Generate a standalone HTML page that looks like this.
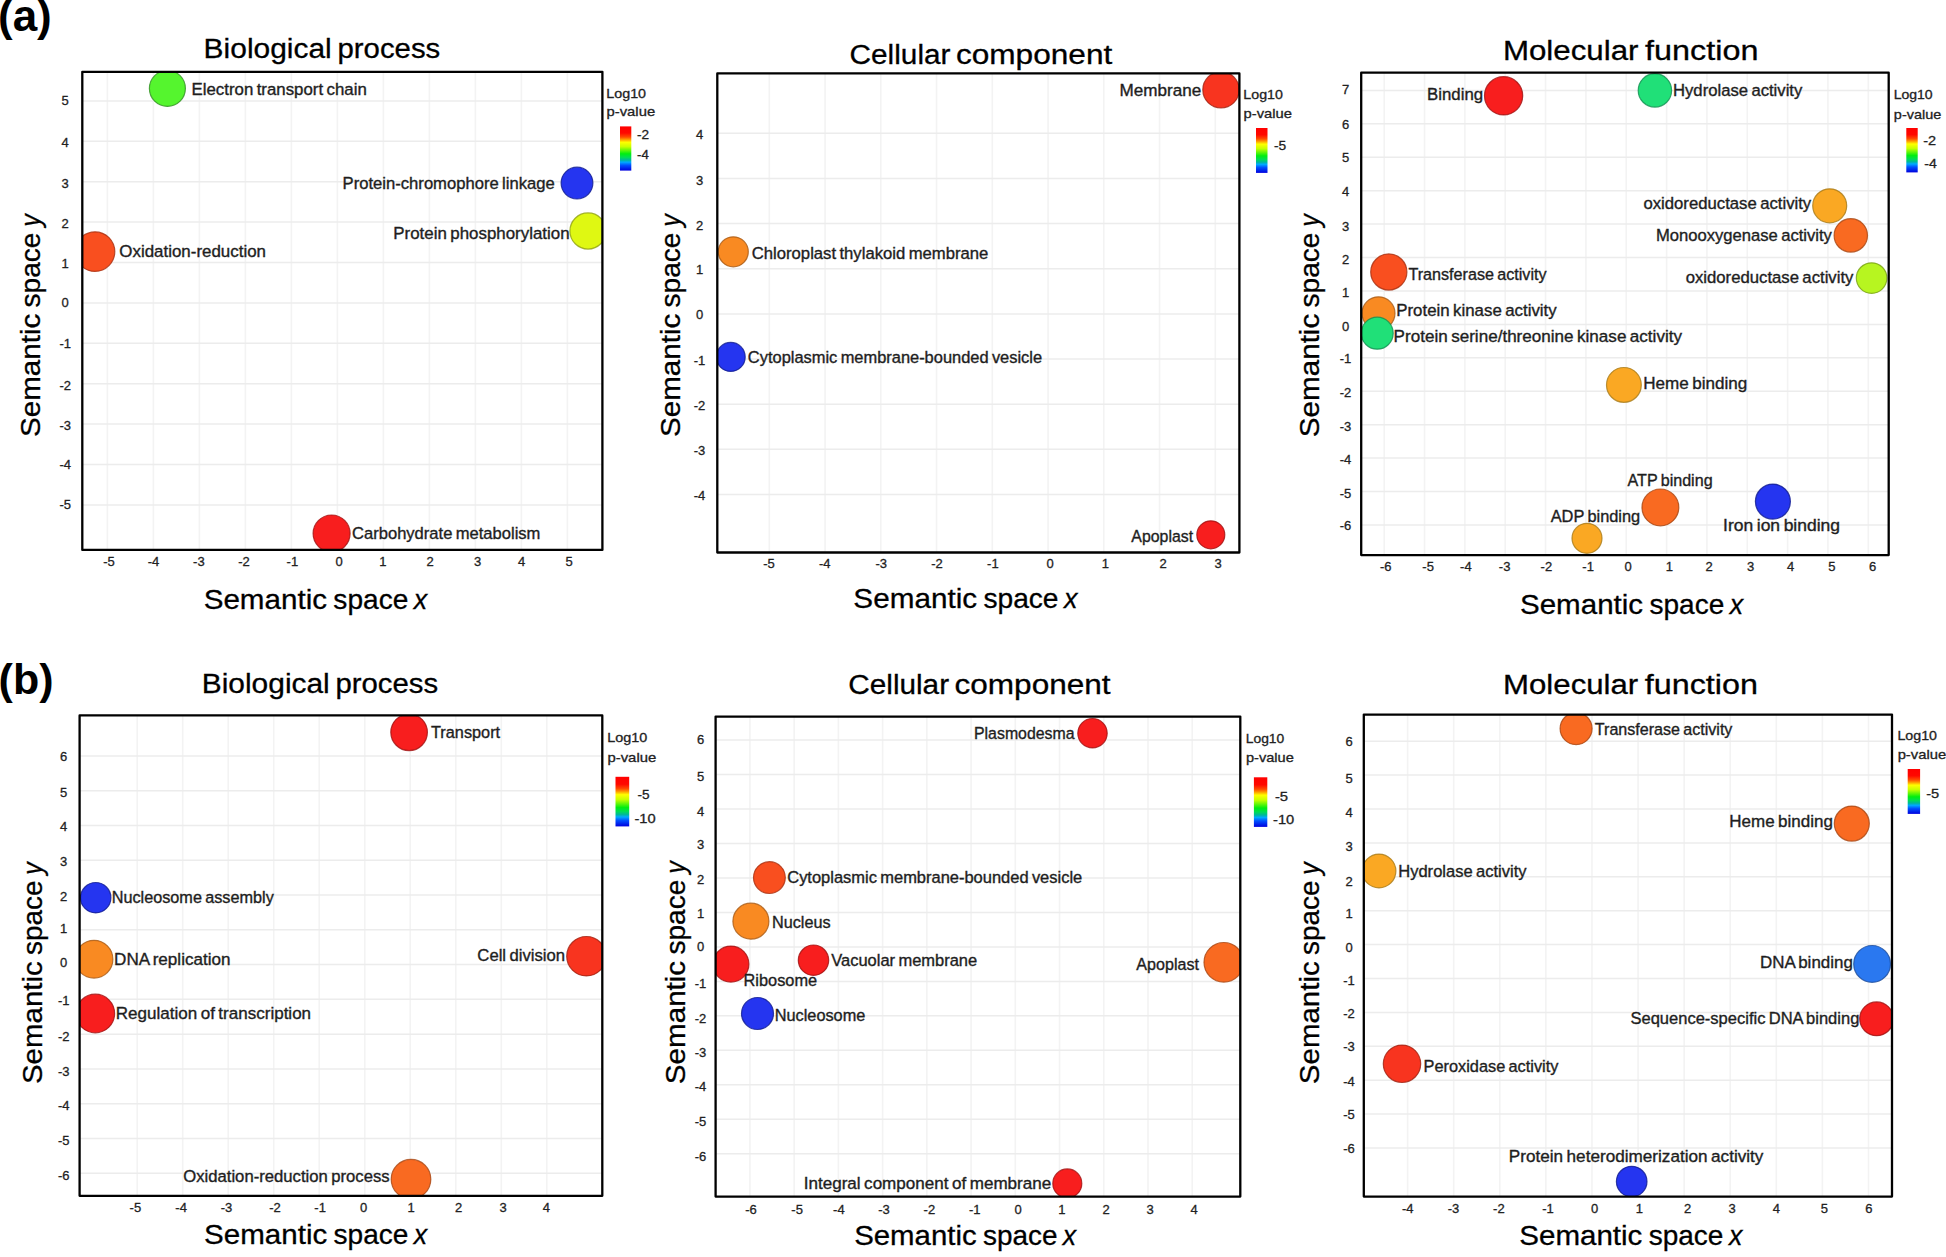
<!DOCTYPE html>
<html><head><meta charset="utf-8"><title>Figure</title>
<style>
html,body{margin:0;padding:0;background:#fff;}
svg{display:block;}
text{font-family:'Liberation Sans', Arial, sans-serif;}
.t{fill:#000;}
.h{fill:#000;stroke:#000;stroke-width:0.3px;}
.lab{fill:#1e1e1e;stroke:#1e1e1e;stroke-width:0.35px;}
.tk{fill:#222;stroke:#222;stroke-width:0.3px;}
.lg{fill:#222;stroke:#222;stroke-width:0.3px;}
</style></head><body>
<svg width="1946" height="1257" viewBox="0 0 1946 1257">
<defs>
<linearGradient id="cb" x1="0" y1="0" x2="0" y2="1">
<stop offset="0" stop-color="#ff0000"/>
<stop offset="0.15" stop-color="#ff0800"/>
<stop offset="0.24" stop-color="#ff4a00"/>
<stop offset="0.29" stop-color="#ff9000"/>
<stop offset="0.36" stop-color="#ffff00"/>
<stop offset="0.46" stop-color="#c8ff00"/>
<stop offset="0.62" stop-color="#00ee10"/>
<stop offset="0.70" stop-color="#00dd55"/>
<stop offset="0.76" stop-color="#00b898"/>
<stop offset="0.81" stop-color="#00aaff"/>
<stop offset="0.88" stop-color="#0050ff"/>
<stop offset="1" stop-color="#0000dd"/>
</linearGradient>

<clipPath id="c0"><rect x="82.3" y="71.8" width="520.1" height="478.1"/></clipPath>
<clipPath id="c1"><rect x="717.3" y="73.4" width="522.1" height="479.1"/></clipPath>
<clipPath id="c2"><rect x="1361.2" y="72.7" width="527.5" height="482.4"/></clipPath>
<clipPath id="c3"><rect x="79.6" y="715.4" width="522.7" height="480.4"/></clipPath>
<clipPath id="c4"><rect x="715.6" y="716.6" width="524.7" height="480"/></clipPath>
<clipPath id="c5"><rect x="1363.8" y="714.6" width="528.2" height="482"/></clipPath>
</defs>
<rect width="1946" height="1257" fill="#fff"/>
<text x="-2" y="31.4" style="font-weight:bold;font-size:44px" class="t">(a)</text>
<text x="-1.4" y="693.8" style="font-weight:bold;font-size:43px" class="t">(b)</text>
<g stroke="#f3f3f3" stroke-width="1.6"><line x1="107.4" y1="71.8" x2="107.4" y2="549.9"/><line x1="153.4" y1="71.8" x2="153.4" y2="549.9"/><line x1="199.4" y1="71.8" x2="199.4" y2="549.9"/><line x1="245.4" y1="71.8" x2="245.4" y2="549.9"/><line x1="291.4" y1="71.8" x2="291.4" y2="549.9"/><line x1="337.4" y1="71.8" x2="337.4" y2="549.9"/><line x1="383.4" y1="71.8" x2="383.4" y2="549.9"/><line x1="429.4" y1="71.8" x2="429.4" y2="549.9"/><line x1="475.4" y1="71.8" x2="475.4" y2="549.9"/><line x1="521.4" y1="71.8" x2="521.4" y2="549.9"/><line x1="567.4" y1="71.8" x2="567.4" y2="549.9"/></g>
<g stroke="#ececec" stroke-width="1.5"><line x1="82.3" y1="504.9" x2="602.4" y2="504.9"/><line x1="82.3" y1="464.5" x2="602.4" y2="464.5"/><line x1="82.3" y1="424.1" x2="602.4" y2="424.1"/><line x1="82.3" y1="383.7" x2="602.4" y2="383.7"/><line x1="82.3" y1="343.3" x2="602.4" y2="343.3"/><line x1="82.3" y1="302.9" x2="602.4" y2="302.9"/><line x1="82.3" y1="262.5" x2="602.4" y2="262.5"/><line x1="82.3" y1="222.1" x2="602.4" y2="222.1"/><line x1="82.3" y1="181.7" x2="602.4" y2="181.7"/><line x1="82.3" y1="141.3" x2="602.4" y2="141.3"/><line x1="82.3" y1="100.9" x2="602.4" y2="100.9"/></g>
<g clip-path="url(#c0)"><circle cx="167.4" cy="88.4" r="18" fill="#55f52e" stroke="#309020" stroke-width="1.2" stroke-opacity="0.8"/><circle cx="95" cy="251.6" r="19.8" fill="#f94f1f" stroke="#a83010" stroke-width="1.2" stroke-opacity="0.8"/><circle cx="577" cy="183.1" r="15.9" fill="#2535f0" stroke="#101c90" stroke-width="1.2" stroke-opacity="0.8"/><circle cx="588" cy="231" r="18.1" fill="#dff812" stroke="#90a010" stroke-width="1.2" stroke-opacity="0.8"/><circle cx="331.6" cy="533.5" r="18.5" fill="#f81e1e" stroke="#a01010" stroke-width="1.2" stroke-opacity="0.8"/></g>
<rect x="82.3" y="71.8" width="520.1" height="478.1" fill="none" stroke="#000" stroke-width="2.3" stroke-linejoin="round"/>
<text class="lab" x="191.52" y="94.6" font-size="16.13" textLength="175.27" lengthAdjust="spacingAndGlyphs" word-spacing="-1.2">Electron transport chain</text>
<text class="lab" x="119.3" y="256.5" font-size="16.13" textLength="146.7" lengthAdjust="spacingAndGlyphs" word-spacing="-1.2">Oxidation-reduction</text>
<text class="lab" x="342.64" y="189.3" font-size="16.13" textLength="212.1" lengthAdjust="spacingAndGlyphs" word-spacing="-1.2">Protein-chromophore linkage</text>
<text class="lab" x="393.31" y="238.9" font-size="16.13" textLength="176.28" lengthAdjust="spacingAndGlyphs" word-spacing="-1.2">Protein phosphorylation</text>
<text class="lab" x="352.06" y="539.4" font-size="16.13" textLength="188.33" lengthAdjust="spacingAndGlyphs" word-spacing="-1.2">Carbohydrate metabolism</text>
<text class="tk" x="109" y="566" font-size="13" text-anchor="middle">-5</text>
<text class="tk" x="153.5" y="566" font-size="13" text-anchor="middle">-4</text>
<text class="tk" x="198.9" y="566" font-size="13" text-anchor="middle">-3</text>
<text class="tk" x="244" y="566" font-size="13" text-anchor="middle">-2</text>
<text class="tk" x="292.4" y="566" font-size="13" text-anchor="middle">-1</text>
<text class="tk" x="339.1" y="566" font-size="13" text-anchor="middle">0</text>
<text class="tk" x="382.8" y="566" font-size="13" text-anchor="middle">1</text>
<text class="tk" x="430.2" y="566" font-size="13" text-anchor="middle">2</text>
<text class="tk" x="477.6" y="566" font-size="13" text-anchor="middle">3</text>
<text class="tk" x="521.7" y="566" font-size="13" text-anchor="middle">4</text>
<text class="tk" x="569.1" y="566" font-size="13" text-anchor="middle">5</text>
<text class="tk" x="65.2" y="508.7" font-size="13" text-anchor="middle">-5</text>
<text class="tk" x="65.2" y="469.3" font-size="13" text-anchor="middle">-4</text>
<text class="tk" x="65.2" y="429.9" font-size="13" text-anchor="middle">-3</text>
<text class="tk" x="65.2" y="390" font-size="13" text-anchor="middle">-2</text>
<text class="tk" x="65.2" y="347.6" font-size="13" text-anchor="middle">-1</text>
<text class="tk" x="65.2" y="307.1" font-size="13" text-anchor="middle">0</text>
<text class="tk" x="65.2" y="267.7" font-size="13" text-anchor="middle">1</text>
<text class="tk" x="65.2" y="227.8" font-size="13" text-anchor="middle">2</text>
<text class="tk" x="65.2" y="187.7" font-size="13" text-anchor="middle">3</text>
<text class="tk" x="65.2" y="147.2" font-size="13" text-anchor="middle">4</text>
<text class="tk" x="65.2" y="105.4" font-size="13" text-anchor="middle">5</text>
<text class="h" y="57.9" font-size="28.2"><tspan x="203.64" textLength="128.12" lengthAdjust="spacingAndGlyphs">Biological</tspan> <tspan x="337.49" textLength="102.77" lengthAdjust="spacingAndGlyphs">process</tspan></text>
<text class="h" y="609.3" font-size="28.49"><tspan x="203.66" textLength="123.41" lengthAdjust="spacingAndGlyphs">Semantic</tspan> <tspan x="333.36" textLength="74.95" lengthAdjust="spacingAndGlyphs">space</tspan> <tspan x="413.78" textLength="13.43" lengthAdjust="spacingAndGlyphs" font-style="italic">x</tspan></text>
<text class="h" transform="translate(39.8,435.6) rotate(-90)" y="0" font-size="28.49"><tspan x="-1.34" textLength="123.25" lengthAdjust="spacingAndGlyphs">Semantic</tspan> <tspan x="128.18" textLength="74.85" lengthAdjust="spacingAndGlyphs">space</tspan> <tspan x="208.85" textLength="12.59" lengthAdjust="spacingAndGlyphs" font-style="italic">y</tspan></text>
<text class="lg" x="606.33" y="97.5" font-size="12.79" textLength="39.73" lengthAdjust="spacingAndGlyphs">Log10</text>
<text class="lg" x="606.54" y="116.3" font-size="12.79" textLength="48.61" lengthAdjust="spacingAndGlyphs">p-value</text>
<rect x="620" y="126.4" width="11.3" height="44.2" fill="url(#cb)"/>
<text class="lg" x="637" y="138.5" font-size="12.79" textLength="12.09" lengthAdjust="spacingAndGlyphs">-2</text>
<text class="lg" x="637.01" y="159.3" font-size="12.79" textLength="11.78" lengthAdjust="spacingAndGlyphs">-4</text>
<g stroke="#f3f3f3" stroke-width="1.6"><line x1="769.3" y1="73.4" x2="769.3" y2="552.5"/><line x1="825.05" y1="73.4" x2="825.05" y2="552.5"/><line x1="880.8" y1="73.4" x2="880.8" y2="552.5"/><line x1="936.55" y1="73.4" x2="936.55" y2="552.5"/><line x1="992.3" y1="73.4" x2="992.3" y2="552.5"/><line x1="1048.05" y1="73.4" x2="1048.05" y2="552.5"/><line x1="1103.8" y1="73.4" x2="1103.8" y2="552.5"/><line x1="1159.55" y1="73.4" x2="1159.55" y2="552.5"/><line x1="1215.3" y1="73.4" x2="1215.3" y2="552.5"/></g>
<g stroke="#ececec" stroke-width="1.5"><line x1="717.3" y1="494.5" x2="1239.4" y2="494.5"/><line x1="717.3" y1="449.35" x2="1239.4" y2="449.35"/><line x1="717.3" y1="404.2" x2="1239.4" y2="404.2"/><line x1="717.3" y1="359.05" x2="1239.4" y2="359.05"/><line x1="717.3" y1="313.9" x2="1239.4" y2="313.9"/><line x1="717.3" y1="268.75" x2="1239.4" y2="268.75"/><line x1="717.3" y1="223.6" x2="1239.4" y2="223.6"/><line x1="717.3" y1="178.45" x2="1239.4" y2="178.45"/><line x1="717.3" y1="133.3" x2="1239.4" y2="133.3"/></g>
<g clip-path="url(#c1)"><circle cx="1221" cy="89.8" r="18.2" fill="#f8341f" stroke="#a02010" stroke-width="1.2" stroke-opacity="0.8"/><circle cx="733.3" cy="251.8" r="15" fill="#f98a22" stroke="#a85a15" stroke-width="1.2" stroke-opacity="0.8"/><circle cx="730.7" cy="356.9" r="14.5" fill="#2535f0" stroke="#101c90" stroke-width="1.2" stroke-opacity="0.8"/><circle cx="1210.8" cy="534.8" r="14" fill="#f81e1e" stroke="#a01010" stroke-width="1.2" stroke-opacity="0.8"/></g>
<rect x="717.3" y="73.4" width="522.1" height="479.1" fill="none" stroke="#000" stroke-width="2.3" stroke-linejoin="round"/>
<text class="lab" x="1119.6" y="95.9" font-size="16.13" textLength="81.66" lengthAdjust="spacingAndGlyphs" word-spacing="-1.2">Membrane</text>
<text class="lab" x="751.75" y="258.6" font-size="16.13" textLength="236.59" lengthAdjust="spacingAndGlyphs" word-spacing="-1.2">Chloroplast thylakoid membrane</text>
<text class="lab" x="747.87" y="363" font-size="16.13" textLength="294.26" lengthAdjust="spacingAndGlyphs" word-spacing="-1.2">Cytoplasmic membrane-bounded vesicle</text>
<text class="lab" x="1131.37" y="541.8" font-size="16.13" textLength="61.75" lengthAdjust="spacingAndGlyphs" word-spacing="-1.2">Apoplast</text>
<text class="tk" x="769" y="568" font-size="13" text-anchor="middle">-5</text>
<text class="tk" x="824.8" y="568" font-size="13" text-anchor="middle">-4</text>
<text class="tk" x="881.3" y="568" font-size="13" text-anchor="middle">-3</text>
<text class="tk" x="937" y="568" font-size="13" text-anchor="middle">-2</text>
<text class="tk" x="992.9" y="568" font-size="13" text-anchor="middle">-1</text>
<text class="tk" x="1050.1" y="568" font-size="13" text-anchor="middle">0</text>
<text class="tk" x="1105.3" y="568" font-size="13" text-anchor="middle">1</text>
<text class="tk" x="1163" y="568" font-size="13" text-anchor="middle">2</text>
<text class="tk" x="1218.1" y="568" font-size="13" text-anchor="middle">3</text>
<text class="tk" x="699.5" y="500.1" font-size="13" text-anchor="middle">-4</text>
<text class="tk" x="699.5" y="455" font-size="13" text-anchor="middle">-3</text>
<text class="tk" x="699.5" y="409.8" font-size="13" text-anchor="middle">-2</text>
<text class="tk" x="699.5" y="364.7" font-size="13" text-anchor="middle">-1</text>
<text class="tk" x="699.5" y="319" font-size="13" text-anchor="middle">0</text>
<text class="tk" x="699.5" y="274.1" font-size="13" text-anchor="middle">1</text>
<text class="tk" x="699.5" y="229.5" font-size="13" text-anchor="middle">2</text>
<text class="tk" x="699.5" y="184.7" font-size="13" text-anchor="middle">3</text>
<text class="tk" x="699.5" y="138.8" font-size="13" text-anchor="middle">4</text>
<text class="h" y="63.7" font-size="28.2"><tspan x="849.59" textLength="100.89" lengthAdjust="spacingAndGlyphs">Cellular</tspan> <tspan x="955.94" textLength="156.29" lengthAdjust="spacingAndGlyphs">component</tspan></text>
<text class="h" y="608.4" font-size="28.49"><tspan x="853.35" textLength="123.75" lengthAdjust="spacingAndGlyphs">Semantic</tspan> <tspan x="983.4" textLength="75.15" lengthAdjust="spacingAndGlyphs">space</tspan> <tspan x="1064.04" textLength="13.47" lengthAdjust="spacingAndGlyphs" font-style="italic">x</tspan></text>
<text class="h" transform="translate(679.8,435.6) rotate(-90)" y="0" font-size="28.49"><tspan x="-1.34" textLength="123.25" lengthAdjust="spacingAndGlyphs">Semantic</tspan> <tspan x="128.18" textLength="74.85" lengthAdjust="spacingAndGlyphs">space</tspan> <tspan x="208.85" textLength="12.59" lengthAdjust="spacingAndGlyphs" font-style="italic">y</tspan></text>
<text class="lg" x="1243.33" y="99.3" font-size="12.79" textLength="39.52" lengthAdjust="spacingAndGlyphs">Log10</text>
<text class="lg" x="1243.55" y="118.4" font-size="12.79" textLength="48.41" lengthAdjust="spacingAndGlyphs">p-value</text>
<rect x="1256" y="128" width="11.5" height="44.9" fill="url(#cb)"/>
<text class="lg" x="1273.99" y="150.4" font-size="12.79" textLength="12.18" lengthAdjust="spacingAndGlyphs">-5</text>
<g stroke="#f3f3f3" stroke-width="1.6"><line x1="1384.21" y1="72.7" x2="1384.21" y2="555.1"/><line x1="1424.55" y1="72.7" x2="1424.55" y2="555.1"/><line x1="1464.89" y1="72.7" x2="1464.89" y2="555.1"/><line x1="1505.23" y1="72.7" x2="1505.23" y2="555.1"/><line x1="1545.57" y1="72.7" x2="1545.57" y2="555.1"/><line x1="1585.91" y1="72.7" x2="1585.91" y2="555.1"/><line x1="1626.25" y1="72.7" x2="1626.25" y2="555.1"/><line x1="1666.59" y1="72.7" x2="1666.59" y2="555.1"/><line x1="1706.93" y1="72.7" x2="1706.93" y2="555.1"/><line x1="1747.27" y1="72.7" x2="1747.27" y2="555.1"/><line x1="1787.61" y1="72.7" x2="1787.61" y2="555.1"/><line x1="1827.95" y1="72.7" x2="1827.95" y2="555.1"/><line x1="1868.29" y1="72.7" x2="1868.29" y2="555.1"/></g>
<g stroke="#ececec" stroke-width="1.5"><line x1="1361.2" y1="524.98" x2="1888.7" y2="524.98"/><line x1="1361.2" y1="491.55" x2="1888.7" y2="491.55"/><line x1="1361.2" y1="458.12" x2="1888.7" y2="458.12"/><line x1="1361.2" y1="424.69" x2="1888.7" y2="424.69"/><line x1="1361.2" y1="391.26" x2="1888.7" y2="391.26"/><line x1="1361.2" y1="357.83" x2="1888.7" y2="357.83"/><line x1="1361.2" y1="324.4" x2="1888.7" y2="324.4"/><line x1="1361.2" y1="290.97" x2="1888.7" y2="290.97"/><line x1="1361.2" y1="257.54" x2="1888.7" y2="257.54"/><line x1="1361.2" y1="224.11" x2="1888.7" y2="224.11"/><line x1="1361.2" y1="190.68" x2="1888.7" y2="190.68"/><line x1="1361.2" y1="157.25" x2="1888.7" y2="157.25"/><line x1="1361.2" y1="123.82" x2="1888.7" y2="123.82"/><line x1="1361.2" y1="90.39" x2="1888.7" y2="90.39"/></g>
<g clip-path="url(#c2)"><circle cx="1503.6" cy="95.8" r="19.1" fill="#f81e1e" stroke="#a01010" stroke-width="1.2" stroke-opacity="0.8"/><circle cx="1654.9" cy="90.4" r="16.7" fill="#20e078" stroke="#109050" stroke-width="1.2" stroke-opacity="0.8"/><circle cx="1829.7" cy="205.8" r="17" fill="#faa823" stroke="#a87a18" stroke-width="1.2" stroke-opacity="0.8"/><circle cx="1850.8" cy="235.4" r="16.7" fill="#f96a21" stroke="#a84510" stroke-width="1.2" stroke-opacity="0.8"/><circle cx="1871.6" cy="278.1" r="15.3" fill="#b7f520" stroke="#78a015" stroke-width="1.2" stroke-opacity="0.8"/><circle cx="1388.8" cy="272" r="18.1" fill="#f94f1f" stroke="#a83010" stroke-width="1.2" stroke-opacity="0.8"/><circle cx="1378.5" cy="313.3" r="16.5" fill="#f98a22" stroke="#a85a15" stroke-width="1.2" stroke-opacity="0.8"/><circle cx="1377.2" cy="333.2" r="16" fill="#20e078" stroke="#109050" stroke-width="1.2" stroke-opacity="0.8"/><circle cx="1623.9" cy="384.9" r="17.4" fill="#faa823" stroke="#a87a18" stroke-width="1.2" stroke-opacity="0.8"/><circle cx="1660.4" cy="507.4" r="18.4" fill="#f96a21" stroke="#a84510" stroke-width="1.2" stroke-opacity="0.8"/><circle cx="1772.9" cy="501.6" r="17.5" fill="#2535f0" stroke="#101c90" stroke-width="1.2" stroke-opacity="0.8"/><circle cx="1587" cy="538.3" r="15" fill="#faa823" stroke="#a87a18" stroke-width="1.2" stroke-opacity="0.8"/></g>
<rect x="1361.2" y="72.7" width="527.5" height="482.4" fill="none" stroke="#000" stroke-width="2.3" stroke-linejoin="round"/>
<text class="lab" x="1427.02" y="99.9" font-size="16.13" textLength="56.06" lengthAdjust="spacingAndGlyphs" word-spacing="-1.2">Binding</text>
<text class="lab" x="1673.03" y="95.9" font-size="16.13" textLength="129.3" lengthAdjust="spacingAndGlyphs" word-spacing="-1.2">Hydrolase activity</text>
<text class="lab" x="1643.4" y="208.5" font-size="16.13" textLength="167.83" lengthAdjust="spacingAndGlyphs" word-spacing="-1.2">oxidoreductase activity</text>
<text class="lab" x="1655.94" y="240.7" font-size="16.13" textLength="175.99" lengthAdjust="spacingAndGlyphs" word-spacing="-1.2">Monooxygenase activity</text>
<text class="lab" x="1685.7" y="282.5" font-size="16.13" textLength="167.73" lengthAdjust="spacingAndGlyphs" word-spacing="-1.2">oxidoreductase activity</text>
<text class="lab" x="1408.44" y="279.6" font-size="16.13" textLength="138.09" lengthAdjust="spacingAndGlyphs" word-spacing="-1.2">Transferase activity</text>
<text class="lab" x="1396.22" y="315.8" font-size="16.13" textLength="160.52" lengthAdjust="spacingAndGlyphs" word-spacing="-1.2">Protein kinase activity</text>
<text class="lab" x="1393.6" y="341.5" font-size="16.13" textLength="288.43" lengthAdjust="spacingAndGlyphs" word-spacing="-1.2">Protein serine/threonine kinase activity</text>
<text class="lab" x="1643.2" y="389.3" font-size="16.13" textLength="104.1" lengthAdjust="spacingAndGlyphs" word-spacing="-1.2">Heme binding</text>
<text class="lab" x="1627.57" y="486.4" font-size="16.13" textLength="85.05" lengthAdjust="spacingAndGlyphs" word-spacing="-1.2">ATP binding</text>
<text class="lab" x="1723.09" y="530.5" font-size="16.13" textLength="116.94" lengthAdjust="spacingAndGlyphs" word-spacing="-1.2">Iron ion binding</text>
<text class="lab" x="1550.67" y="521.8" font-size="16.13" textLength="89.58" lengthAdjust="spacingAndGlyphs" word-spacing="-1.2">ADP binding</text>
<text class="tk" x="1385.7" y="571.4" font-size="13" text-anchor="middle">-6</text>
<text class="tk" x="1428.1" y="571.4" font-size="13" text-anchor="middle">-5</text>
<text class="tk" x="1465.9" y="571.4" font-size="13" text-anchor="middle">-4</text>
<text class="tk" x="1504.6" y="571.4" font-size="13" text-anchor="middle">-3</text>
<text class="tk" x="1546.4" y="571.4" font-size="13" text-anchor="middle">-2</text>
<text class="tk" x="1588.1" y="571.4" font-size="13" text-anchor="middle">-1</text>
<text class="tk" x="1628" y="571.4" font-size="13" text-anchor="middle">0</text>
<text class="tk" x="1669.4" y="571.4" font-size="13" text-anchor="middle">1</text>
<text class="tk" x="1709.2" y="571.4" font-size="13" text-anchor="middle">2</text>
<text class="tk" x="1750.6" y="571.4" font-size="13" text-anchor="middle">3</text>
<text class="tk" x="1790.7" y="571.4" font-size="13" text-anchor="middle">4</text>
<text class="tk" x="1831.8" y="571.4" font-size="13" text-anchor="middle">5</text>
<text class="tk" x="1872.6" y="571.4" font-size="13" text-anchor="middle">6</text>
<text class="tk" x="1345.5" y="530.4" font-size="13" text-anchor="middle">-6</text>
<text class="tk" x="1345.5" y="497.6" font-size="13" text-anchor="middle">-5</text>
<text class="tk" x="1345.5" y="463.8" font-size="13" text-anchor="middle">-4</text>
<text class="tk" x="1345.5" y="430.9" font-size="13" text-anchor="middle">-3</text>
<text class="tk" x="1345.5" y="397.1" font-size="13" text-anchor="middle">-2</text>
<text class="tk" x="1345.5" y="363.3" font-size="13" text-anchor="middle">-1</text>
<text class="tk" x="1345.5" y="331.4" font-size="13" text-anchor="middle">0</text>
<text class="tk" x="1345.5" y="297.4" font-size="13" text-anchor="middle">1</text>
<text class="tk" x="1345.5" y="263.6" font-size="13" text-anchor="middle">2</text>
<text class="tk" x="1345.5" y="230.8" font-size="13" text-anchor="middle">3</text>
<text class="tk" x="1345.5" y="196" font-size="13" text-anchor="middle">4</text>
<text class="tk" x="1345.5" y="162.2" font-size="13" text-anchor="middle">5</text>
<text class="tk" x="1345.5" y="128.8" font-size="13" text-anchor="middle">6</text>
<text class="tk" x="1345.5" y="93.6" font-size="13" text-anchor="middle">7</text>
<text class="h" y="60.1" font-size="28.2"><tspan x="1502.94" textLength="135.51" lengthAdjust="spacingAndGlyphs">Molecular</tspan> <tspan x="1644.99" textLength="113.42" lengthAdjust="spacingAndGlyphs">function</tspan></text>
<text class="h" y="613.7" font-size="28.49"><tspan x="1519.96" textLength="123.19" lengthAdjust="spacingAndGlyphs">Semantic</tspan> <tspan x="1649.43" textLength="74.82" lengthAdjust="spacingAndGlyphs">space</tspan> <tspan x="1729.7" textLength="13.41" lengthAdjust="spacingAndGlyphs" font-style="italic">x</tspan></text>
<text class="h" transform="translate(1318.9,435.8) rotate(-90)" y="0" font-size="28.49"><tspan x="-1.34" textLength="123.36" lengthAdjust="spacingAndGlyphs">Semantic</tspan> <tspan x="128.3" textLength="74.92" lengthAdjust="spacingAndGlyphs">space</tspan> <tspan x="209.04" textLength="12.6" lengthAdjust="spacingAndGlyphs" font-style="italic">y</tspan></text>
<text class="lg" x="1893.65" y="98.9" font-size="12.79" textLength="39" lengthAdjust="spacingAndGlyphs">Log10</text>
<text class="lg" x="1893.87" y="118.5" font-size="12.79" textLength="47.37" lengthAdjust="spacingAndGlyphs">p-value</text>
<rect x="1906.3" y="128" width="11.4" height="44.4" fill="url(#cb)"/>
<text class="lg" x="1923.26" y="145.2" font-size="12.79" textLength="12.87" lengthAdjust="spacingAndGlyphs">-2</text>
<text class="lg" x="1924.27" y="168.1" font-size="12.79" textLength="12.54" lengthAdjust="spacingAndGlyphs">-4</text>
<g stroke="#f3f3f3" stroke-width="1.6"><line x1="137.2" y1="715.4" x2="137.2" y2="1195.8"/><line x1="182.71" y1="715.4" x2="182.71" y2="1195.8"/><line x1="228.22" y1="715.4" x2="228.22" y2="1195.8"/><line x1="273.73" y1="715.4" x2="273.73" y2="1195.8"/><line x1="319.24" y1="715.4" x2="319.24" y2="1195.8"/><line x1="364.75" y1="715.4" x2="364.75" y2="1195.8"/><line x1="410.26" y1="715.4" x2="410.26" y2="1195.8"/><line x1="455.77" y1="715.4" x2="455.77" y2="1195.8"/><line x1="501.28" y1="715.4" x2="501.28" y2="1195.8"/><line x1="546.79" y1="715.4" x2="546.79" y2="1195.8"/></g>
<g stroke="#ececec" stroke-width="1.5"><line x1="79.6" y1="1173.22" x2="602.3" y2="1173.22"/><line x1="79.6" y1="1138.45" x2="602.3" y2="1138.45"/><line x1="79.6" y1="1103.68" x2="602.3" y2="1103.68"/><line x1="79.6" y1="1068.91" x2="602.3" y2="1068.91"/><line x1="79.6" y1="1034.14" x2="602.3" y2="1034.14"/><line x1="79.6" y1="999.37" x2="602.3" y2="999.37"/><line x1="79.6" y1="964.6" x2="602.3" y2="964.6"/><line x1="79.6" y1="929.83" x2="602.3" y2="929.83"/><line x1="79.6" y1="895.06" x2="602.3" y2="895.06"/><line x1="79.6" y1="860.29" x2="602.3" y2="860.29"/><line x1="79.6" y1="825.52" x2="602.3" y2="825.52"/><line x1="79.6" y1="790.75" x2="602.3" y2="790.75"/><line x1="79.6" y1="755.98" x2="602.3" y2="755.98"/></g>
<g clip-path="url(#c3)"><circle cx="409.1" cy="732.3" r="18.3" fill="#f81e1e" stroke="#a01010" stroke-width="1.2" stroke-opacity="0.8"/><circle cx="95.7" cy="897.7" r="15.2" fill="#2535f0" stroke="#101c90" stroke-width="1.2" stroke-opacity="0.8"/><circle cx="94" cy="959.2" r="18.9" fill="#f98a22" stroke="#a85a15" stroke-width="1.2" stroke-opacity="0.8"/><circle cx="95.3" cy="1013.5" r="19.3" fill="#f81e1e" stroke="#a01010" stroke-width="1.2" stroke-opacity="0.8"/><circle cx="586.4" cy="956.2" r="19.7" fill="#f8341f" stroke="#a02010" stroke-width="1.2" stroke-opacity="0.8"/><circle cx="411" cy="1179.2" r="19.8" fill="#f96a21" stroke="#a84510" stroke-width="1.2" stroke-opacity="0.8"/></g>
<rect x="79.6" y="715.4" width="522.7" height="480.4" fill="none" stroke="#000" stroke-width="2.3" stroke-linejoin="round"/>
<text class="lab" x="431.04" y="737.5" font-size="16.13" textLength="69.08" lengthAdjust="spacingAndGlyphs" word-spacing="-1.2">Transport</text>
<text class="lab" x="111.67" y="902.8" font-size="16.13" textLength="162.16" lengthAdjust="spacingAndGlyphs" word-spacing="-1.2">Nucleosome assembly</text>
<text class="lab" x="114.11" y="965.2" font-size="16.13" textLength="116.39" lengthAdjust="spacingAndGlyphs" word-spacing="-1.2">DNA replication</text>
<text class="lab" x="115.8" y="1019.4" font-size="16.13" textLength="195.3" lengthAdjust="spacingAndGlyphs" word-spacing="-1.2">Regulation of transcription</text>
<text class="lab" x="477.35" y="961.2" font-size="16.13" textLength="87.73" lengthAdjust="spacingAndGlyphs" word-spacing="-1.2">Cell division</text>
<text class="lab" x="183.21" y="1182.3" font-size="16.13" textLength="206.39" lengthAdjust="spacingAndGlyphs" word-spacing="-1.2">Oxidation-reduction process</text>
<text class="tk" x="135.4" y="1212" font-size="13" text-anchor="middle">-5</text>
<text class="tk" x="181.1" y="1212" font-size="13" text-anchor="middle">-4</text>
<text class="tk" x="226.5" y="1212" font-size="13" text-anchor="middle">-3</text>
<text class="tk" x="275" y="1212" font-size="13" text-anchor="middle">-2</text>
<text class="tk" x="320.1" y="1212" font-size="13" text-anchor="middle">-1</text>
<text class="tk" x="363.6" y="1212" font-size="13" text-anchor="middle">0</text>
<text class="tk" x="411.1" y="1212" font-size="13" text-anchor="middle">1</text>
<text class="tk" x="458.6" y="1212" font-size="13" text-anchor="middle">2</text>
<text class="tk" x="503" y="1212" font-size="13" text-anchor="middle">3</text>
<text class="tk" x="546.4" y="1212" font-size="13" text-anchor="middle">4</text>
<text class="tk" x="63.7" y="1179.9" font-size="13" text-anchor="middle">-6</text>
<text class="tk" x="63.7" y="1145.3" font-size="13" text-anchor="middle">-5</text>
<text class="tk" x="63.7" y="1109.8" font-size="13" text-anchor="middle">-4</text>
<text class="tk" x="63.7" y="1076.1" font-size="13" text-anchor="middle">-3</text>
<text class="tk" x="63.7" y="1041" font-size="13" text-anchor="middle">-2</text>
<text class="tk" x="63.7" y="1004.7" font-size="13" text-anchor="middle">-1</text>
<text class="tk" x="63.7" y="967.2" font-size="13" text-anchor="middle">0</text>
<text class="tk" x="63.7" y="933.4" font-size="13" text-anchor="middle">1</text>
<text class="tk" x="63.7" y="900.7" font-size="13" text-anchor="middle">2</text>
<text class="tk" x="63.7" y="865.7" font-size="13" text-anchor="middle">3</text>
<text class="tk" x="63.7" y="831" font-size="13" text-anchor="middle">4</text>
<text class="tk" x="63.7" y="797.3" font-size="13" text-anchor="middle">5</text>
<text class="tk" x="63.7" y="761.1" font-size="13" text-anchor="middle">6</text>
<text class="h" y="693.2" font-size="28.2"><tspan x="201.75" textLength="128.01" lengthAdjust="spacingAndGlyphs">Biological</tspan> <tspan x="335.48" textLength="102.68" lengthAdjust="spacingAndGlyphs">process</tspan></text>
<text class="h" y="1243.8" font-size="28.49"><tspan x="204.06" textLength="123.19" lengthAdjust="spacingAndGlyphs">Semantic</tspan> <tspan x="333.53" textLength="74.82" lengthAdjust="spacingAndGlyphs">space</tspan> <tspan x="413.8" textLength="13.41" lengthAdjust="spacingAndGlyphs" font-style="italic">x</tspan></text>
<text class="h" transform="translate(41.8,1082.7) rotate(-90)" y="0" font-size="28.49"><tspan x="-1.34" textLength="122.75" lengthAdjust="spacingAndGlyphs">Semantic</tspan> <tspan x="127.67" textLength="74.55" lengthAdjust="spacingAndGlyphs">space</tspan> <tspan x="208" textLength="12.53" lengthAdjust="spacingAndGlyphs" font-style="italic">y</tspan></text>
<text class="lg" x="607.22" y="742.4" font-size="12.79" textLength="39.94" lengthAdjust="spacingAndGlyphs">Log10</text>
<text class="lg" x="607.44" y="761.5" font-size="12.79" textLength="48.82" lengthAdjust="spacingAndGlyphs">p-value</text>
<rect x="615.5" y="776.8" width="13.7" height="49.6" fill="url(#cb)"/>
<text class="lg" x="637.4" y="799.2" font-size="12.79" textLength="12.07" lengthAdjust="spacingAndGlyphs">-5</text>
<text class="lg" x="634.45" y="823.1" font-size="12.79" textLength="21.23" lengthAdjust="spacingAndGlyphs">-10</text>
<g stroke="#f3f3f3" stroke-width="1.6"><line x1="749.92" y1="716.6" x2="749.92" y2="1196.6"/><line x1="794.15" y1="716.6" x2="794.15" y2="1196.6"/><line x1="838.38" y1="716.6" x2="838.38" y2="1196.6"/><line x1="882.61" y1="716.6" x2="882.61" y2="1196.6"/><line x1="926.84" y1="716.6" x2="926.84" y2="1196.6"/><line x1="971.07" y1="716.6" x2="971.07" y2="1196.6"/><line x1="1015.3" y1="716.6" x2="1015.3" y2="1196.6"/><line x1="1059.53" y1="716.6" x2="1059.53" y2="1196.6"/><line x1="1103.76" y1="716.6" x2="1103.76" y2="1196.6"/><line x1="1147.99" y1="716.6" x2="1147.99" y2="1196.6"/><line x1="1192.22" y1="716.6" x2="1192.22" y2="1196.6"/></g>
<g stroke="#ececec" stroke-width="1.5"><line x1="715.6" y1="1153.78" x2="1240.3" y2="1153.78"/><line x1="715.6" y1="1119.3" x2="1240.3" y2="1119.3"/><line x1="715.6" y1="1084.82" x2="1240.3" y2="1084.82"/><line x1="715.6" y1="1050.34" x2="1240.3" y2="1050.34"/><line x1="715.6" y1="1015.86" x2="1240.3" y2="1015.86"/><line x1="715.6" y1="981.38" x2="1240.3" y2="981.38"/><line x1="715.6" y1="946.9" x2="1240.3" y2="946.9"/><line x1="715.6" y1="912.42" x2="1240.3" y2="912.42"/><line x1="715.6" y1="877.94" x2="1240.3" y2="877.94"/><line x1="715.6" y1="843.46" x2="1240.3" y2="843.46"/><line x1="715.6" y1="808.98" x2="1240.3" y2="808.98"/><line x1="715.6" y1="774.5" x2="1240.3" y2="774.5"/><line x1="715.6" y1="740.02" x2="1240.3" y2="740.02"/></g>
<g clip-path="url(#c4)"><circle cx="1092.5" cy="733.2" r="14.7" fill="#f81e1e" stroke="#a01010" stroke-width="1.2" stroke-opacity="0.8"/><circle cx="769.4" cy="877.6" r="15.9" fill="#f94f1f" stroke="#a83010" stroke-width="1.2" stroke-opacity="0.8"/><circle cx="750.9" cy="921.2" r="18" fill="#f98a22" stroke="#a85a15" stroke-width="1.2" stroke-opacity="0.8"/><circle cx="730.9" cy="964.1" r="18" fill="#f81e1e" stroke="#a01010" stroke-width="1.2" stroke-opacity="0.8"/><circle cx="813.5" cy="960.2" r="15.2" fill="#f81e1e" stroke="#a01010" stroke-width="1.2" stroke-opacity="0.8"/><circle cx="757.5" cy="1013.5" r="16" fill="#2535f0" stroke="#101c90" stroke-width="1.2" stroke-opacity="0.8"/><circle cx="1223.8" cy="962.3" r="19.8" fill="#f96a21" stroke="#a84510" stroke-width="1.2" stroke-opacity="0.8"/><circle cx="1067.3" cy="1183.4" r="14.5" fill="#f81e1e" stroke="#a01010" stroke-width="1.2" stroke-opacity="0.8"/></g>
<rect x="715.6" y="716.6" width="524.7" height="480" fill="none" stroke="#000" stroke-width="2.3" stroke-linejoin="round"/>
<text class="lab" x="974" y="738.8" font-size="16.13" textLength="100.6" lengthAdjust="spacingAndGlyphs" word-spacing="-1.2">Plasmodesma</text>
<text class="lab" x="787.26" y="883.1" font-size="16.13" textLength="294.97" lengthAdjust="spacingAndGlyphs" word-spacing="-1.2">Cytoplasmic membrane-bounded vesicle</text>
<text class="lab" x="771.97" y="927.5" font-size="16.13" textLength="58.62" lengthAdjust="spacingAndGlyphs" word-spacing="-1.2">Nucleus</text>
<text class="lab" x="743.56" y="985.9" font-size="16.13" textLength="73.57" lengthAdjust="spacingAndGlyphs" word-spacing="-1.2">Ribosome</text>
<text class="lab" x="831.23" y="966.4" font-size="16.13" textLength="146" lengthAdjust="spacingAndGlyphs" word-spacing="-1.2">Vacuolar membrane</text>
<text class="lab" x="774.76" y="1021" font-size="16.13" textLength="90.56" lengthAdjust="spacingAndGlyphs" word-spacing="-1.2">Nucleosome</text>
<text class="lab" x="1136.37" y="969.5" font-size="16.13" textLength="62.55" lengthAdjust="spacingAndGlyphs" word-spacing="-1.2">Apoplast</text>
<text class="lab" x="803.73" y="1188.8" font-size="16.13" textLength="247.53" lengthAdjust="spacingAndGlyphs" word-spacing="-1.2">Integral component of membrane</text>
<text class="tk" x="751" y="1214" font-size="13" text-anchor="middle">-6</text>
<text class="tk" x="797.1" y="1214" font-size="13" text-anchor="middle">-5</text>
<text class="tk" x="838.9" y="1214" font-size="13" text-anchor="middle">-4</text>
<text class="tk" x="884" y="1214" font-size="13" text-anchor="middle">-3</text>
<text class="tk" x="929.4" y="1214" font-size="13" text-anchor="middle">-2</text>
<text class="tk" x="974.8" y="1214" font-size="13" text-anchor="middle">-1</text>
<text class="tk" x="1018.1" y="1214" font-size="13" text-anchor="middle">0</text>
<text class="tk" x="1061.9" y="1214" font-size="13" text-anchor="middle">1</text>
<text class="tk" x="1106" y="1214" font-size="13" text-anchor="middle">2</text>
<text class="tk" x="1150" y="1214" font-size="13" text-anchor="middle">3</text>
<text class="tk" x="1194.1" y="1214" font-size="13" text-anchor="middle">4</text>
<text class="tk" x="700.5" y="1160.8" font-size="13" text-anchor="middle">-6</text>
<text class="tk" x="700.5" y="1126.2" font-size="13" text-anchor="middle">-5</text>
<text class="tk" x="700.5" y="1090.7" font-size="13" text-anchor="middle">-4</text>
<text class="tk" x="700.5" y="1057.1" font-size="13" text-anchor="middle">-3</text>
<text class="tk" x="700.5" y="1023.4" font-size="13" text-anchor="middle">-2</text>
<text class="tk" x="700.5" y="987.9" font-size="13" text-anchor="middle">-1</text>
<text class="tk" x="700.5" y="951.2" font-size="13" text-anchor="middle">0</text>
<text class="tk" x="700.5" y="917.5" font-size="13" text-anchor="middle">1</text>
<text class="tk" x="700.5" y="884.4" font-size="13" text-anchor="middle">2</text>
<text class="tk" x="700.5" y="849.2" font-size="13" text-anchor="middle">3</text>
<text class="tk" x="700.5" y="815.6" font-size="13" text-anchor="middle">4</text>
<text class="tk" x="700.5" y="780.5" font-size="13" text-anchor="middle">5</text>
<text class="tk" x="700.5" y="744.2" font-size="13" text-anchor="middle">6</text>
<text class="h" y="694.4" font-size="28.2"><tspan x="848.29" textLength="100.77" lengthAdjust="spacingAndGlyphs">Cellular</tspan> <tspan x="954.52" textLength="156.11" lengthAdjust="spacingAndGlyphs">component</tspan></text>
<text class="h" y="1244.7" font-size="28.49"><tspan x="854.16" textLength="122.58" lengthAdjust="spacingAndGlyphs">Semantic</tspan> <tspan x="982.99" textLength="74.45" lengthAdjust="spacingAndGlyphs">space</tspan> <tspan x="1062.87" textLength="13.34" lengthAdjust="spacingAndGlyphs" font-style="italic">x</tspan></text>
<text class="h" transform="translate(685.4,1082.8) rotate(-90)" y="0" font-size="28.49"><tspan x="-1.34" textLength="123.3" lengthAdjust="spacingAndGlyphs">Semantic</tspan> <tspan x="128.24" textLength="74.88" lengthAdjust="spacingAndGlyphs">space</tspan> <tspan x="208.94" textLength="12.59" lengthAdjust="spacingAndGlyphs" font-style="italic">y</tspan></text>
<text class="lg" x="1245.76" y="742.9" font-size="12.79" textLength="38.48" lengthAdjust="spacingAndGlyphs">Log10</text>
<text class="lg" x="1245.96" y="761.5" font-size="12.79" textLength="47.89" lengthAdjust="spacingAndGlyphs">p-value</text>
<rect x="1253.9" y="777.3" width="13.4" height="49.6" fill="url(#cb)"/>
<text class="lg" x="1274.94" y="801.1" font-size="12.79" textLength="13.18" lengthAdjust="spacingAndGlyphs">-5</text>
<text class="lg" x="1273.05" y="824.1" font-size="12.79" textLength="21.23" lengthAdjust="spacingAndGlyphs">-10</text>
<g stroke="#f3f3f3" stroke-width="1.6"><line x1="1407.6" y1="714.6" x2="1407.6" y2="1196.6"/><line x1="1453.69" y1="714.6" x2="1453.69" y2="1196.6"/><line x1="1499.78" y1="714.6" x2="1499.78" y2="1196.6"/><line x1="1545.87" y1="714.6" x2="1545.87" y2="1196.6"/><line x1="1591.96" y1="714.6" x2="1591.96" y2="1196.6"/><line x1="1638.05" y1="714.6" x2="1638.05" y2="1196.6"/><line x1="1684.14" y1="714.6" x2="1684.14" y2="1196.6"/><line x1="1730.23" y1="714.6" x2="1730.23" y2="1196.6"/><line x1="1776.32" y1="714.6" x2="1776.32" y2="1196.6"/><line x1="1822.41" y1="714.6" x2="1822.41" y2="1196.6"/><line x1="1868.5" y1="714.6" x2="1868.5" y2="1196.6"/></g>
<g stroke="#ececec" stroke-width="1.5"><line x1="1363.8" y1="1148" x2="1892" y2="1148"/><line x1="1363.8" y1="1114.1" x2="1892" y2="1114.1"/><line x1="1363.8" y1="1080.2" x2="1892" y2="1080.2"/><line x1="1363.8" y1="1046.3" x2="1892" y2="1046.3"/><line x1="1363.8" y1="1012.4" x2="1892" y2="1012.4"/><line x1="1363.8" y1="978.5" x2="1892" y2="978.5"/><line x1="1363.8" y1="944.6" x2="1892" y2="944.6"/><line x1="1363.8" y1="910.7" x2="1892" y2="910.7"/><line x1="1363.8" y1="876.8" x2="1892" y2="876.8"/><line x1="1363.8" y1="842.9" x2="1892" y2="842.9"/><line x1="1363.8" y1="809" x2="1892" y2="809"/><line x1="1363.8" y1="775.1" x2="1892" y2="775.1"/><line x1="1363.8" y1="741.2" x2="1892" y2="741.2"/></g>
<g clip-path="url(#c5)"><circle cx="1576.1" cy="728.6" r="16" fill="#f96a21" stroke="#a84510" stroke-width="1.2" stroke-opacity="0.8"/><circle cx="1851.8" cy="823.6" r="17.5" fill="#f96a21" stroke="#a84510" stroke-width="1.2" stroke-opacity="0.8"/><circle cx="1379" cy="871" r="16.9" fill="#faa823" stroke="#a87a18" stroke-width="1.2" stroke-opacity="0.8"/><circle cx="1872.1" cy="963.9" r="18.4" fill="#2a78f0" stroke="#1a4a98" stroke-width="1.2" stroke-opacity="0.8"/><circle cx="1876.6" cy="1018.8" r="16.9" fill="#f81e1e" stroke="#a01010" stroke-width="1.2" stroke-opacity="0.8"/><circle cx="1402" cy="1063.8" r="18.7" fill="#f8341f" stroke="#a02010" stroke-width="1.2" stroke-opacity="0.8"/><circle cx="1631.7" cy="1181.6" r="15.3" fill="#2535f0" stroke="#101c90" stroke-width="1.2" stroke-opacity="0.8"/></g>
<rect x="1363.8" y="714.6" width="528.2" height="482" fill="none" stroke="#000" stroke-width="2.3" stroke-linejoin="round"/>
<text class="lab" x="1594.84" y="734.8" font-size="16.13" textLength="137.59" lengthAdjust="spacingAndGlyphs" word-spacing="-1.2">Transferase activity</text>
<text class="lab" x="1729.31" y="827.1" font-size="16.13" textLength="103.59" lengthAdjust="spacingAndGlyphs" word-spacing="-1.2">Heme binding</text>
<text class="lab" x="1398.24" y="876.8" font-size="16.13" textLength="128.29" lengthAdjust="spacingAndGlyphs" word-spacing="-1.2">Hydrolase activity</text>
<text class="lab" x="1759.92" y="967.7" font-size="16.13" textLength="92.96" lengthAdjust="spacingAndGlyphs" word-spacing="-1.2">DNA binding</text>
<text class="lab" x="1630.45" y="1024.2" font-size="16.13" textLength="228.91" lengthAdjust="spacingAndGlyphs" word-spacing="-1.2">Sequence-specific DNA binding</text>
<text class="lab" x="1423.56" y="1071.8" font-size="16.13" textLength="134.87" lengthAdjust="spacingAndGlyphs" word-spacing="-1.2">Peroxidase activity</text>
<text class="lab" x="1508.79" y="1161.5" font-size="16.13" textLength="254.64" lengthAdjust="spacingAndGlyphs" word-spacing="-1.2">Protein heterodimerization activity</text>
<text class="tk" x="1407.7" y="1213" font-size="13" text-anchor="middle">-4</text>
<text class="tk" x="1453.5" y="1213" font-size="13" text-anchor="middle">-3</text>
<text class="tk" x="1498.9" y="1213" font-size="13" text-anchor="middle">-2</text>
<text class="tk" x="1548" y="1213" font-size="13" text-anchor="middle">-1</text>
<text class="tk" x="1594.7" y="1213" font-size="13" text-anchor="middle">0</text>
<text class="tk" x="1639.3" y="1213" font-size="13" text-anchor="middle">1</text>
<text class="tk" x="1687.5" y="1213" font-size="13" text-anchor="middle">2</text>
<text class="tk" x="1732.2" y="1213" font-size="13" text-anchor="middle">3</text>
<text class="tk" x="1776.3" y="1213" font-size="13" text-anchor="middle">4</text>
<text class="tk" x="1824.4" y="1213" font-size="13" text-anchor="middle">5</text>
<text class="tk" x="1868.8" y="1213" font-size="13" text-anchor="middle">6</text>
<text class="tk" x="1349" y="1152.7" font-size="13" text-anchor="middle">-6</text>
<text class="tk" x="1349" y="1119.1" font-size="13" text-anchor="middle">-5</text>
<text class="tk" x="1349" y="1086.4" font-size="13" text-anchor="middle">-4</text>
<text class="tk" x="1349" y="1051.4" font-size="13" text-anchor="middle">-3</text>
<text class="tk" x="1349" y="1017.7" font-size="13" text-anchor="middle">-2</text>
<text class="tk" x="1349" y="984.5" font-size="13" text-anchor="middle">-1</text>
<text class="tk" x="1349" y="952.2" font-size="13" text-anchor="middle">0</text>
<text class="tk" x="1349" y="918.4" font-size="13" text-anchor="middle">1</text>
<text class="tk" x="1349" y="885.7" font-size="13" text-anchor="middle">2</text>
<text class="tk" x="1349" y="851.1" font-size="13" text-anchor="middle">3</text>
<text class="tk" x="1349" y="816.5" font-size="13" text-anchor="middle">4</text>
<text class="tk" x="1349" y="782.9" font-size="13" text-anchor="middle">5</text>
<text class="tk" x="1349" y="746.1" font-size="13" text-anchor="middle">6</text>
<text class="h" y="694.4" font-size="28.2"><tspan x="1503.04" textLength="135.24" lengthAdjust="spacingAndGlyphs">Molecular</tspan> <tspan x="1644.81" textLength="113.19" lengthAdjust="spacingAndGlyphs">function</tspan></text>
<text class="h" y="1245" font-size="28.49"><tspan x="1519.26" textLength="123.14" lengthAdjust="spacingAndGlyphs">Semantic</tspan> <tspan x="1648.67" textLength="74.78" lengthAdjust="spacingAndGlyphs">space</tspan> <tspan x="1728.91" textLength="13.4" lengthAdjust="spacingAndGlyphs" font-style="italic">x</tspan></text>
<text class="h" transform="translate(1318.9,1082.8) rotate(-90)" y="0" font-size="28.49"><tspan x="-1.34" textLength="122.81" lengthAdjust="spacingAndGlyphs">Semantic</tspan> <tspan x="127.72" textLength="74.58" lengthAdjust="spacingAndGlyphs">space</tspan> <tspan x="208.1" textLength="12.54" lengthAdjust="spacingAndGlyphs" font-style="italic">y</tspan></text>
<text class="lg" x="1897.43" y="739.8" font-size="12.79" textLength="39.52" lengthAdjust="spacingAndGlyphs">Log10</text>
<text class="lg" x="1897.65" y="758.9" font-size="12.79" textLength="48.51" lengthAdjust="spacingAndGlyphs">p-value</text>
<rect x="1907.7" y="769" width="12.4" height="44.9" fill="url(#cb)"/>
<text class="lg" x="1926.15" y="798.1" font-size="12.79" textLength="12.96" lengthAdjust="spacingAndGlyphs">-5</text>
</svg></body></html>
